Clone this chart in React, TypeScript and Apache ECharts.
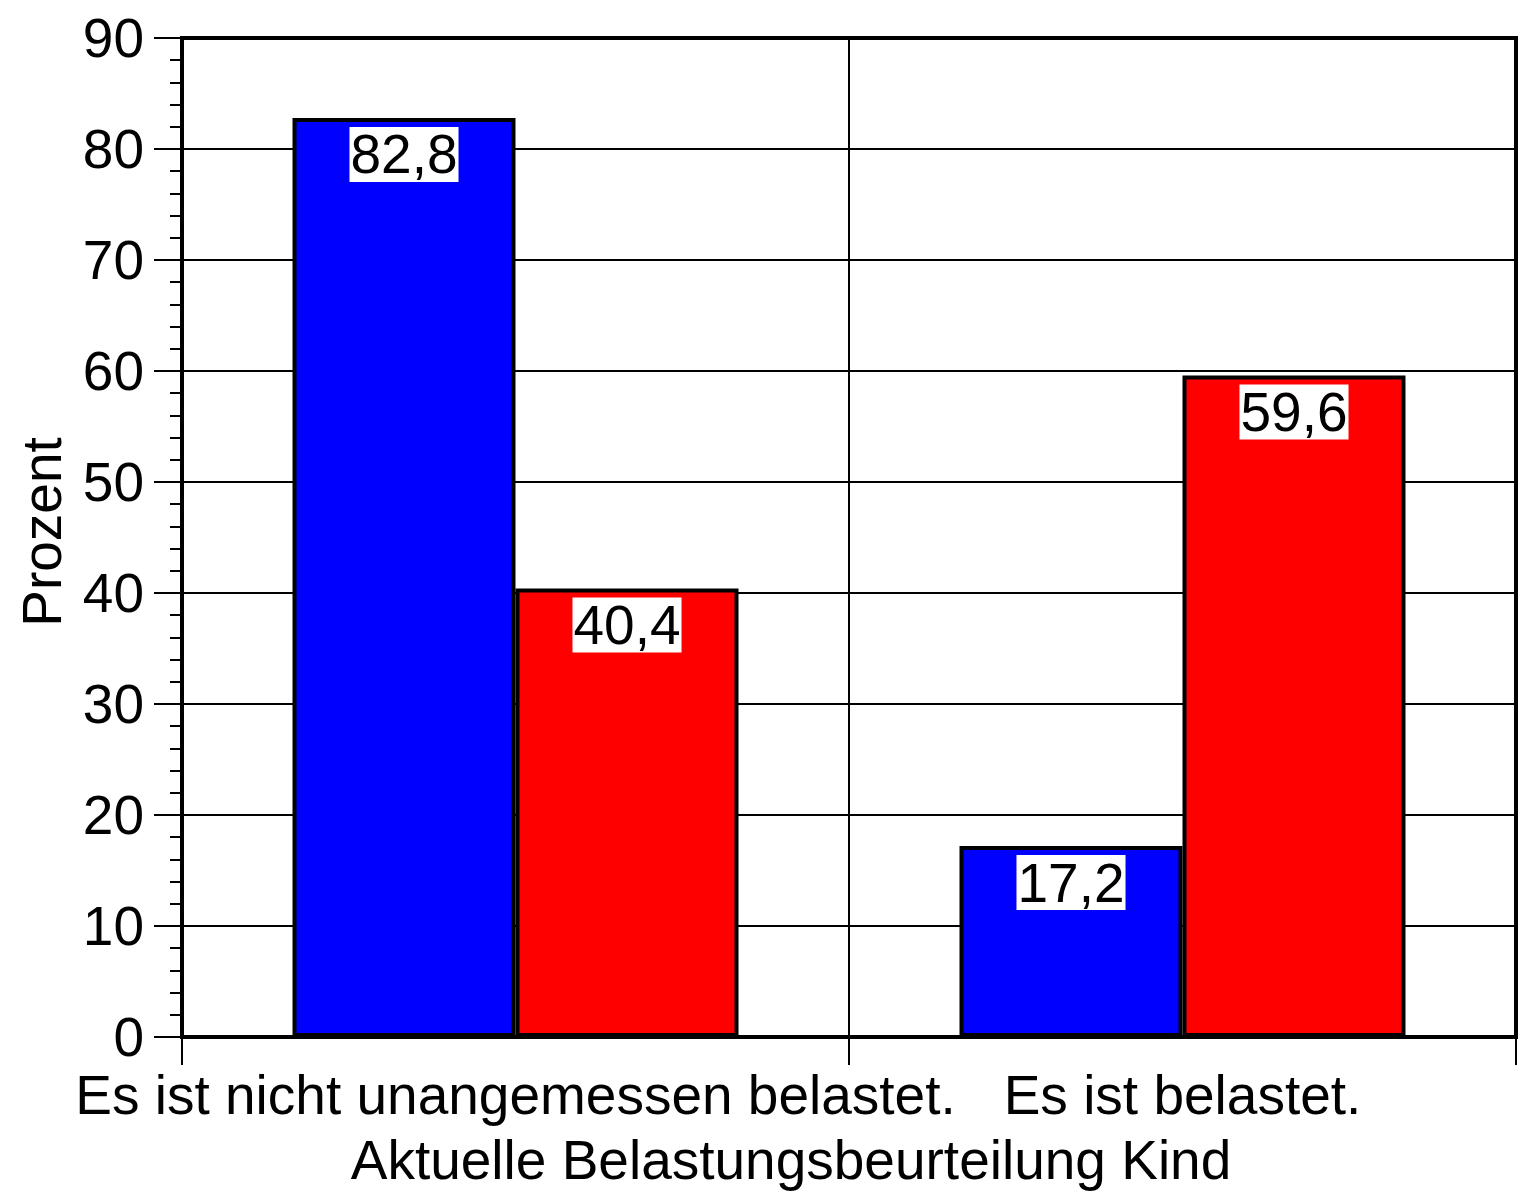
import React, { useEffect, useRef } from "react";
import * as echarts from "echarts";

const categories = ["Es ist nicht unangemessen belastet.", "Es ist belastet."];
const blueValues = [82.8, 17.2];
const redValues = [40.4, 59.6];
const yTicks = { min: 0, max: 90, interval: 10 };
const yName = "Prozent";
const xName = "Aktuelle Belastungsbeurteilung Kind";

const FONT = "'Liberation Sans', Arial, Helvetica, sans-serif";

export default function App() {
  const ref = useRef<HTMLDivElement>(null);
  useEffect(() => {
    if (!ref.current) return;
    const chart = echarts.init(ref.current, null, { renderer: "svg" });
    const label = {
      show: true,
      position: "insideTop",
      distance: 9,
      formatter: (p: any) => String(p.value).replace(".", ","),
      color: "#000",
      fontSize: 55,
      lineHeight: 55,
      fontFamily: FONT,
      backgroundColor: "#fff",
      padding: [0, 1, 0, 1],
    };
    chart.setOption({
      animation: false,
      backgroundColor: "#fff",
      grid: {
        left: 182,
        top: 38,
        width: 1334,
        height: 999,
        show: true,
        borderColor: "#000",
        borderWidth: 4,
        backgroundColor: "transparent",
      },
      xAxis: {
        type: "category",
        data: categories,
        boundaryGap: true,
        axisLine: { show: true, lineStyle: { color: "#000", width: 4 } },
        axisTick: { show: true, length: 28, lineStyle: { color: "#000", width: 2 } },
        splitLine: { show: true, lineStyle: { color: "#000", width: 2 } },
        axisLabel: {
          color: "#000",
          fontSize: 55,
          fontFamily: FONT,
          margin: 30,
          interval: 0,
        },
      },
      yAxis: {
        type: "value",
        min: yTicks.min,
        max: yTicks.max,
        interval: yTicks.interval,
        axisLine: { show: true, lineStyle: { color: "#000", width: 4 } },
        axisTick: { show: true, length: 28, lineStyle: { color: "#000", width: 2 } },
        minorTick: { show: true, splitNumber: 5, length: 12, lineStyle: { color: "#000", width: 2 } },
        splitLine: { show: true, lineStyle: { color: "#000", width: 2 } },
        axisLabel: {
          color: "#000",
          fontSize: 55,
          fontFamily: FONT,
          margin: 38,
          padding: [0, 0, 12, 0],
        },
      },
      graphic: [
        {
          type: "text",
          x: 42,
          y: 532,
          rotation: Math.PI / 2,
          style: {
            text: yName,
            fontSize: 55,
            fontFamily: FONT,
            fill: "#000",
            align: "center",
            verticalAlign: "middle",
          },
        },
        {
          type: "text",
          x: 791,
          y: 1160,
          style: {
            text: xName,
            fontSize: 55,
            fontFamily: FONT,
            fill: "#000",
            align: "center",
            verticalAlign: "middle",
          },
        },
      ],
      series: [
        {
          type: "bar",
          data: blueValues,
          barWidth: 223,
          barGap: "0%",
          itemStyle: { color: "#0000ff", borderColor: "#000", borderWidth: 4 },
          label,
          z: 3,
        },
        {
          type: "bar",
          data: redValues,
          barWidth: 223,
          barGap: "0%",
          itemStyle: { color: "#ff0000", borderColor: "#000", borderWidth: 4 },
          label,
          z: 3,
        },
      ],
    });
    return () => chart.dispose();
  }, []);
  return (
    <div
      ref={ref}
      style={{ position: "fixed", left: 0, top: 0, width: 1518, height: 1193 }}
    />
  );
}
